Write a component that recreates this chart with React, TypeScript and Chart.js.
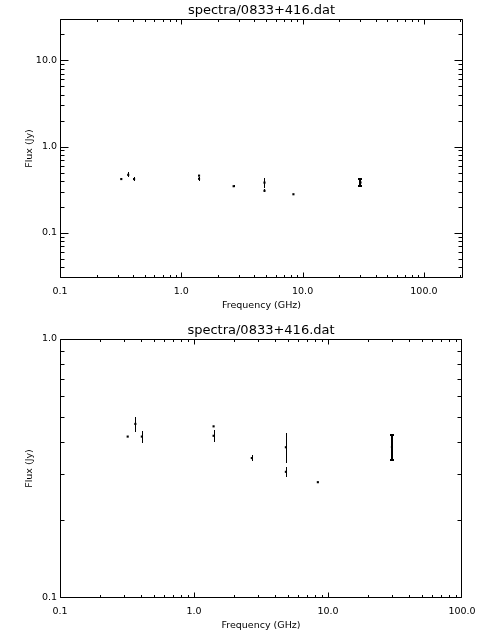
import React, { useEffect, useRef } from "react";
import { Chart, registerables } from "chart.js";

Chart.register(...registerables);

const TITLE = "spectra/0833+416.dat";
const X_LABEL = "Frequency (GHz)";
const Y_LABEL = "Flux (Jy)";

const frequencyGHz = [0.32, 0.365, 0.408, 1.4, 1.4, 2.7, 4.85, 4.85, 8.4, 30];
const fluxJy = [0.42, 0.47, 0.42, 0.46, 0.423, 0.347, 0.382, 0.307, 0.28, 0.383];
const fluxErrJy = [0, 0.031, 0.022, 0, 0.023, 0.01, 0.05, 0.013, 0, 0.045];

// axis ranges of the two panels
const topXRange = [0.1, 210];
const topYRange = [0.03, 30];
const bottomXRange = [0.1, 100];
const bottomYRange = [0.1, 1.0];

const FONT = "DejaVu Sans";
const INK = "#000000";

function isDecade(v: number) {
  const l = Math.log10(v);
  return Math.abs(l - Math.round(l)) < 1e-6;
}

function fmt(v: number) {
  if (v < 1) return String(Number(v.toPrecision(1)));
  return v.toFixed(1);
}

const idlPlugin = {
  id: "idlFrame",
  afterDatasetsDraw(chart: any) {
    const ctx = chart.ctx as CanvasRenderingContext2D;
    const xs = chart.scales.x;
    const ys = chart.scales.y;
    ctx.save();
    ctx.strokeStyle = INK;
    frequencyGHz.forEach((f, i) => {
      const e = fluxErrJy[i];
      if (!e) return;
      const px = xs.getPixelForValue(f);
      const y1 = Math.round(ys.getPixelForValue(fluxJy[i] + e));
      const y2 = Math.round(ys.getPixelForValue(fluxJy[i] - e));
      const thick = e > 0.04 && f > 20;
      ctx.lineWidth = thick ? 2 : 1;
      const x = thick ? Math.round(px) : Math.round(px) + 0.5;
      ctx.beginPath();
      ctx.moveTo(x, y1);
      ctx.lineTo(x, y2);
      if (thick) {
        ctx.moveTo(x - 2, y1 + 1);
        ctx.lineTo(x + 2, y1 + 1);
        ctx.moveTo(x - 2, y2 - 1);
        ctx.lineTo(x + 2, y2 - 1);
      }
      ctx.stroke();
    });
    ctx.restore();
  },
  afterDraw(chart: any) {
    const ctx = chart.ctx as CanvasRenderingContext2D;
    const a = chart.chartArea;
    const xs = chart.scales.x;
    const ys = chart.scales.y;
    ctx.save();
    ctx.strokeStyle = INK;
    ctx.lineWidth = 1;
    const L = Math.round(a.left) + 0.5;
    const R = Math.round(a.right) - 0.5;
    const T = Math.round(a.top) + 0.5;
    const B = Math.round(a.bottom) - 0.5;
    ctx.beginPath();
    ctx.rect(L, T, R - L, B - T);
    const walk = (scale: any, lo0: number, hi0: number, cb: (p: number, major: boolean) => void) => {
      const lo = Math.floor(Math.log10(scale.min)) - 1;
      const hi = Math.ceil(Math.log10(scale.max)) + 1;
      for (let e = lo; e <= hi; e++) {
        for (let m = 1; m <= 9; m++) {
          const v = m * Math.pow(10, e);
          if (v < scale.min * 0.9999 || v > scale.max * 1.0001) continue;
          const p = Math.round(scale.getPixelForValue(v)) + 0.5;
          cb(Math.min(Math.max(p, lo0), hi0), m === 1);
        }
      }
    };
    walk(xs, L, R, (p, major) => {
      const len = major ? 5 : 2.5;
      ctx.moveTo(p, B);
      ctx.lineTo(p, B - len);
      ctx.moveTo(p, T);
      ctx.lineTo(p, T + len);
    });
    walk(ys, T, B, (p, major) => {
      const len = major ? 8 : 4;
      ctx.moveTo(L, p);
      ctx.lineTo(L + len, p);
      ctx.moveTo(R, p);
      ctx.lineTo(R - len, p);
    });
    ctx.stroke();
    ctx.restore();
  },
};

function makeConfig(xr: number[], yr: number[], rightPad: number): any {
  const tickFont = { family: FONT, size: 9.5 };
  return {
    type: "scatter",
    data: {
      datasets: [
        {
          data: frequencyGHz.map((f, i) => ({ x: f, y: fluxJy[i] })),
          pointStyle: "rect",
          pointRadius: 1.5,
          pointBackgroundColor: INK,
          pointBorderWidth: 0,
          showLine: false,
        },
      ],
    },
    options: {
      responsive: false,
      animation: false,
      devicePixelRatio: 1,
      events: [],
      layout: { padding: { left: 0, right: rightPad, top: 0, bottom: 0 } },
      plugins: {
        legend: { display: false },
        tooltip: { enabled: false },
        title: {
          display: true,
          text: TITLE,
          fullSize: false,
          color: INK,
          font: { family: FONT, size: 13, weight: "normal", lineHeight: 1.2 },
          padding: { top: 3, bottom: 0.4 },
        },
      },
      scales: {
        x: {
          type: "logarithmic",
          min: xr[0],
          max: xr[1],
          grid: { display: false, drawTicks: false },
          border: { display: false },
          ticks: {
            color: INK,
            font: tickFont,
            padding: 8,
            autoSkip: false,
            maxRotation: 0,
            callback: (v: any) => (isDecade(Number(v)) ? fmt(Number(v)) : ""),
          },
          title: {
            display: true,
            text: X_LABEL,
            color: INK,
            font: tickFont,
            padding: { top: 0, bottom: 9 },
          },
          afterFit: (s: any) => {
            s.height = 42;
            s.paddingLeft = 0;
            s.paddingRight = 0;
          },
        },
        y: {
          type: "logarithmic",
          min: yr[0],
          max: yr[1],
          grid: { display: false, drawTicks: false },
          border: { display: false },
          ticks: {
            color: INK,
            font: tickFont,
            padding: 3,
            autoSkip: false,
            callback: (v: any) => (isDecade(Number(v)) ? fmt(Number(v)) : ""),
          },
          title: {
            display: true,
            text: Y_LABEL,
            color: INK,
            font: tickFont,
            padding: { top: 24, bottom: 0 },
          },
          afterFit: (s: any) => {
            s.width = 60;
            s.paddingTop = 0;
            s.paddingBottom = 0;
          },
        },
      },
    },
    plugins: [idlPlugin],
  };
}

function Panel({ xr, yr, rightPad }: { xr: number[]; yr: number[]; rightPad: number }) {
  const ref = useRef<HTMLCanvasElement>(null);
  useEffect(() => {
    if (!ref.current) return;
    const chart = new Chart(ref.current, makeConfig(xr, yr, rightPad));
    return () => chart.destroy();
  }, []);
  return <canvas ref={ref} width={480} height={320} style={{ display: "block", width: 480, height: 320 }} />;
}

export default function App() {
  return (
    <div
      style={{
        position: "fixed",
        left: 0,
        top: 0,
        width: 480,
        height: 640,
        background: "#ffffff",
      }}
    >
      <Panel xr={topXRange} yr={topYRange} rightPad={17} />
      <Panel xr={bottomXRange} yr={bottomYRange} rightPad={18} />
    </div>
  );
}
